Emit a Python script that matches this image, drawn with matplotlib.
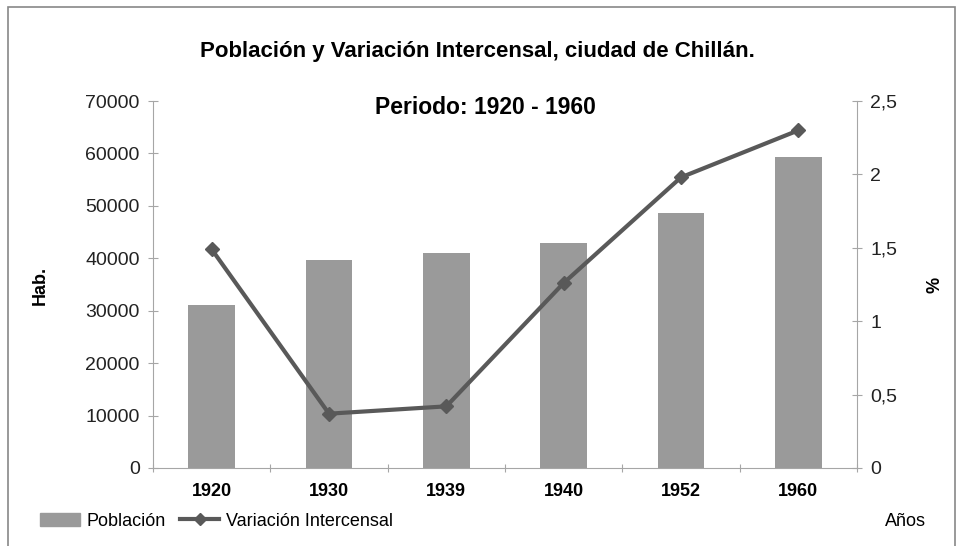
import matplotlib
matplotlib.use("Agg")
import matplotlib.pyplot as plt
from matplotlib.patches import Rectangle
from matplotlib.lines import Line2D
from matplotlib.ticker import FuncFormatter

plt.rcParams['font.family'] = ['Liberation Sans', 'DejaVu Sans']

anios = ["1920", "1930", "1939", "1940", "1952", "1960"]
poblacion = [31000, 39700, 41000, 42900, 48700, 59300]
variacion = [1.49, 0.37, 0.42, 1.26, 1.98, 2.30]

BAR = "#9a9a9a"
LINEA = "#595959"
EJE = "#a6a6a6"

fig = plt.figure(figsize=(9.63, 5.46), dpi=100)
ax = fig.add_axes([153 / 963, 78 / 546, 704 / 963, 367 / 546])
ax2 = ax.twinx()

x = list(range(len(anios)))
ax.bar(x, poblacion, width=0.4, color=BAR, zorder=2)
ax2.plot(x, variacion, color=LINEA, lw=3, marker="D", ms=7, zorder=3)

ax.set_xlim(-0.5, len(anios) - 0.5)
ax.set_ylim(0, 70000)
ax2.set_ylim(0, 2.5)
ax.set_yticks(range(0, 70001, 10000))
ax2.set_yticks([0, 0.5, 1, 1.5, 2, 2.5])
ax2.yaxis.set_major_formatter(FuncFormatter(lambda v, p: f"{v:g}".replace(".", ",")))

# ticks del eje x en los limites de categoria, etiquetas centradas
ax.set_xticks([i + 0.5 for i in range(-1, len(anios))])
ax.set_xticklabels([])
ax.set_xticks(x, minor=True)
ax.set_xticklabels(anios, minor=True, fontweight="bold", fontsize=13)
ax.tick_params(axis="x", which="minor", length=0, pad=11)
ax.tick_params(axis="x", which="major", length=6, color=EJE, direction="inout")

for a in (ax, ax2):
    for s in a.spines.values():
        s.set_visible(False)
    a.tick_params(axis="y", length=7, color=EJE, direction="inout", labelsize=14, labelcolor="#222222", pad=6)
ax.spines["left"].set_visible(True)
ax.spines["left"].set_color(EJE)
ax.spines["bottom"].set_visible(True)
ax.spines["bottom"].set_color(EJE)
ax2.spines["right"].set_visible(True)
ax2.spines["right"].set_color(EJE)

fig.text(477 / 963, 1 - 52 / 546, "Población y Variación Intercensal, ciudad de Chillán.",
         ha="center", va="center", fontsize=16, fontweight="bold")
fig.text(485 / 963, 1 - 108 / 546, "Periodo: 1920 - 1960",
         ha="center", va="center", fontsize=16.5, fontweight="bold")
fig.text(40 / 963, 1 - 285 / 546, "Hab.", rotation=90, ha="center", va="center",
         fontsize=13, fontweight="bold")
fig.text(935 / 963, 1 - 285 / 546, "%", rotation=90, ha="center", va="center",
         fontsize=13, fontweight="bold")
fig.text(905 / 963, 1 - 521 / 546, "Años", ha="center", va="center", fontsize=13)

# leyenda
handles = [Rectangle((0, 0), 1, 1, color=BAR),
           Line2D([], [], color=LINEA, lw=3, marker="D", ms=6)]
fig.legend(handles, ["Población", "Variación Intercensal"], loc="center left",
           bbox_to_anchor=(40 / 963, 1 - 521 / 546), ncol=2, frameon=False,
           fontsize=13, handlelength=2.2, handletextpad=0.35, columnspacing=0.8,
           borderaxespad=0, borderpad=0)

# marco del grafico
fig.patches.append(Rectangle((8 / 963, -0.05), 947 / 963, 1 - 7 / 546 + 0.05,
                             transform=fig.transFigure, fill=False, ec="#888888", lw=1.2))

fig.savefig("out.png", dpi=100)
